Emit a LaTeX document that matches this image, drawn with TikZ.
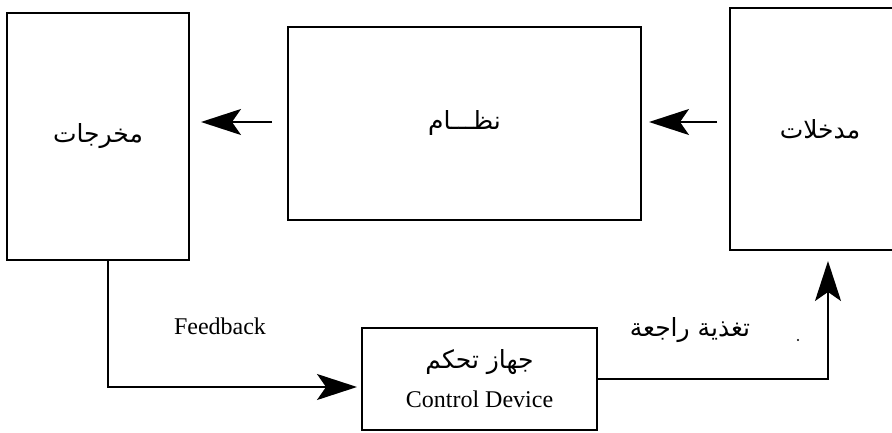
\documentclass[tikz,border=0pt]{standalone}
\usepackage{fontspec}
\setmainfont{Liberation Serif}
\newfontfamily\arabicfont[Script=Arabic]{DejaVu Sans}
\TeXXeTstate=1
\usetikzlibrary{arrows.meta}

\newcommand{\arabtext}[1]{{\arabicfont\fontsize{25}{30}\selectfont\beginR #1\endR}}

\begin{document}
\begin{tikzpicture}[x=1pt, y=1pt,
	block/.style={draw, line width=2pt, inner sep=0pt},
	arr/.style={line width=1.8pt, -{Stealth[length=40pt, width=26pt, inset=9pt]}},
	every node/.style={font=\fontsize{24}{29}\selectfont}]
	
	\useasboundingbox (0,0) rectangle (892,432);
	
	% outputs, system, inputs
	\node[block, minimum width=182, minimum height=247] (out) at (98, 295.5) {\arabtext{مخرجات}};
	\node[block, minimum width=353, minimum height=193] (sys) at (464.5, 308.5) {\arabtext{نظـــام}};
	\node[block, minimum width=180, minimum height=242] (inp) at (820, 303) {\arabtext{مدخلات}};
	
	% controller
	\node[block, minimum width=235, minimum height=102, align=center] (ctl) at (479.5, 53)
		{\arabtext{جهاز تحكم}\\[10pt] Control Device};
	
	\draw[arr] ([shift={(-12,7)}]inp.west) -- ([shift={(7,1.5)}]sys.east);
	\draw[arr] ([shift={(-15,1.5)}]sys.west) -- ([shift={(11,14.5)}]out.east);
	
	% feedback loop
	\draw[arr] ([xshift=10]out.south) |- ([shift={(-4,-8)}]ctl.west);
	\draw[arr] (ctl.east) -| ([shift={(8,-10)}]inp.south);
	
	\node (fb) at (220, 106) {Feedback};
	\node (fbar) at (690, 102) {\arabtext{تغذية راجعة}};
	\fill (798, 92) circle (1.2);
	
\end{tikzpicture}
\end{document}
